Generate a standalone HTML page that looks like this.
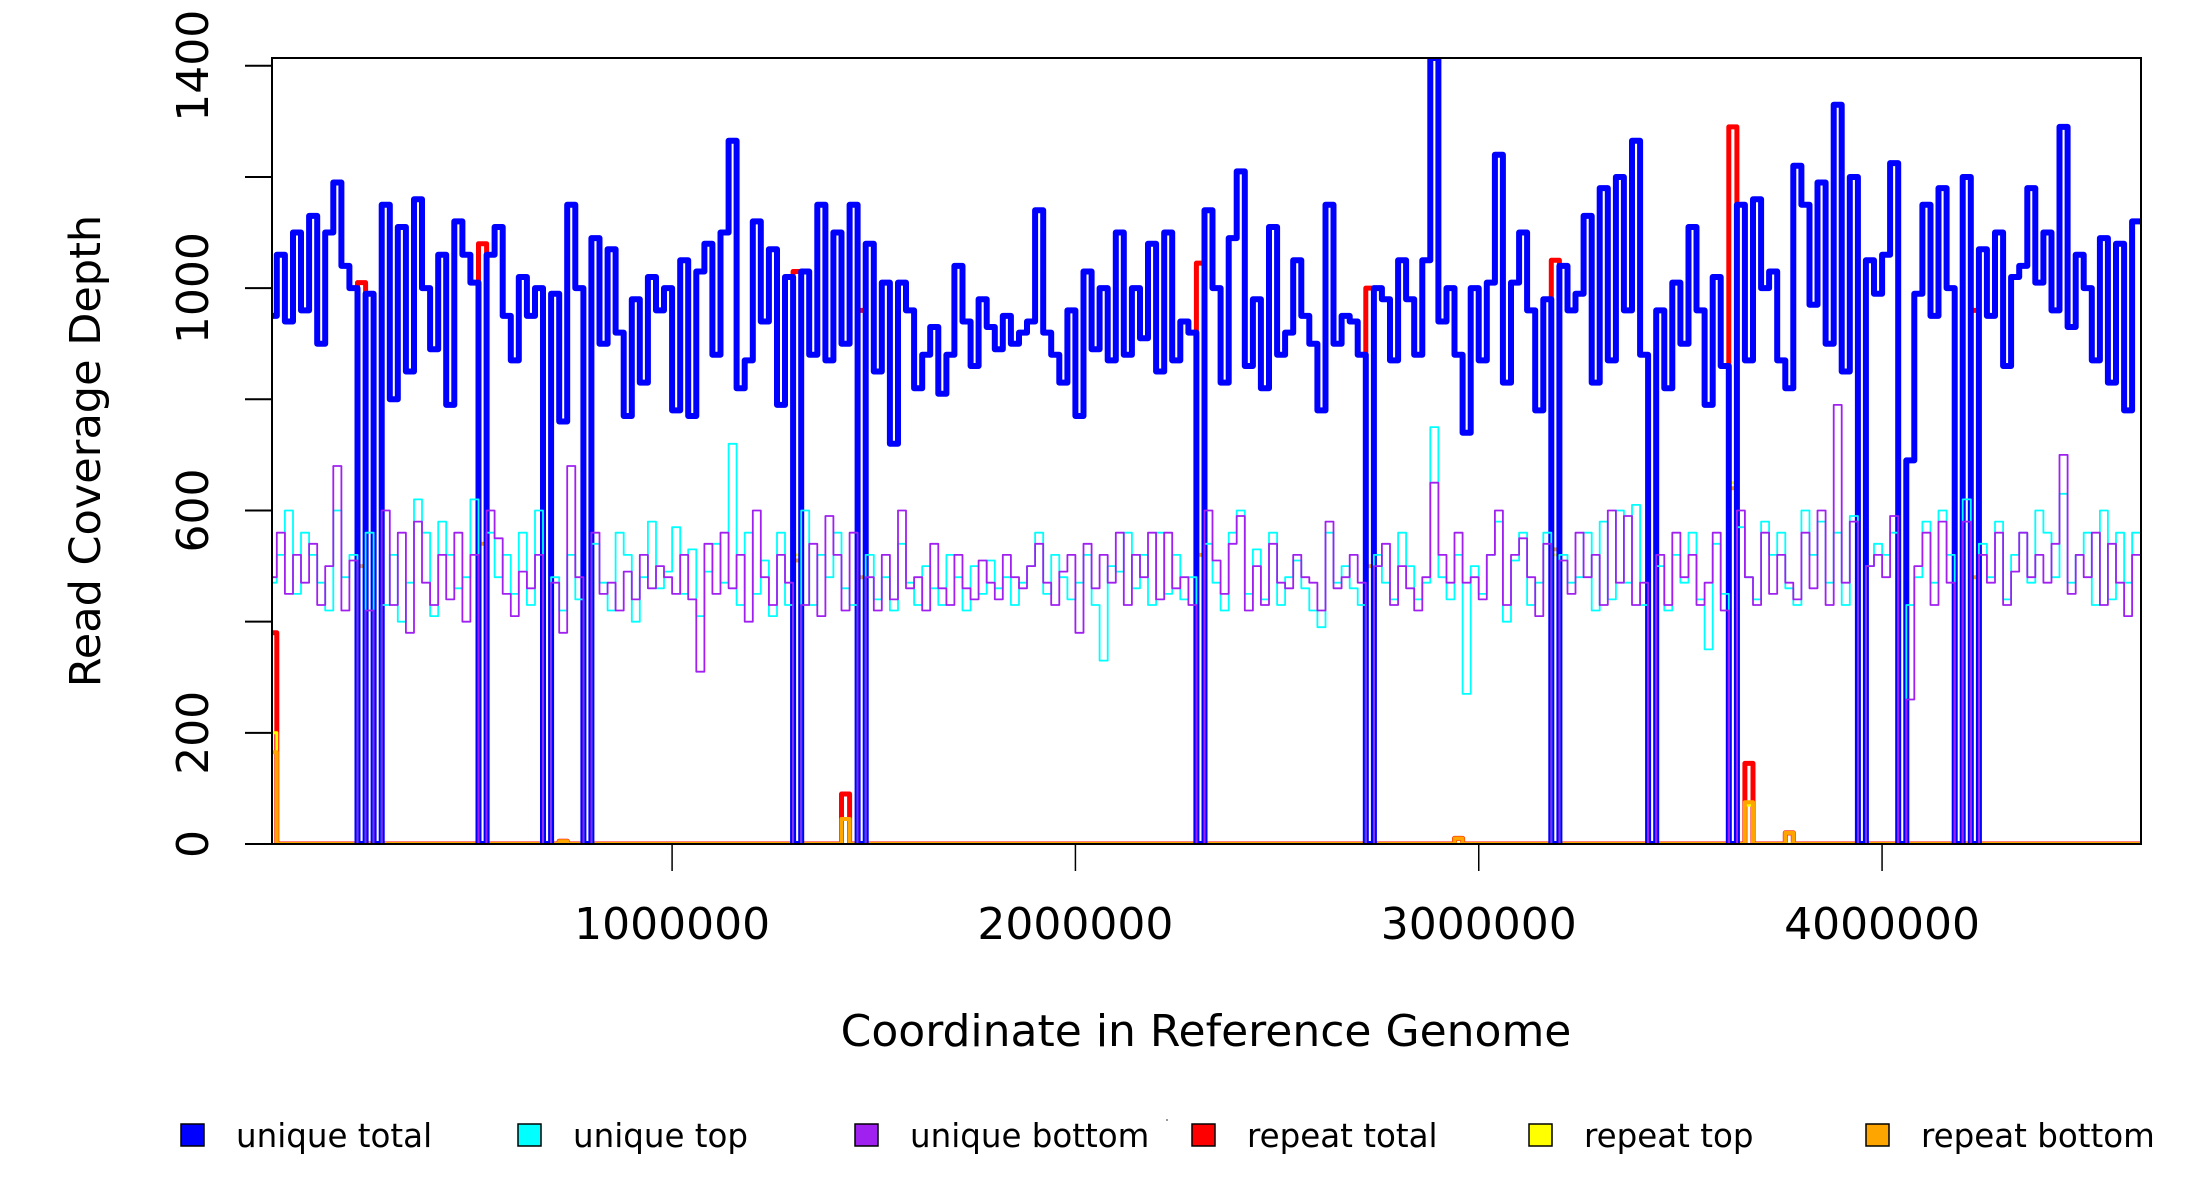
<!DOCTYPE html>
<html><head><meta charset="utf-8"><style>
html,body{margin:0;padding:0;background:#fff;}
svg{display:block;font-family:"DejaVu Sans","Liberation Sans",sans-serif;}
</style></head><body>
<svg id="chart" width="2200" height="1200" viewBox="0 0 2200 1200" xmlns="http://www.w3.org/2000/svg">
<defs><clipPath id="clip"><rect x="272" y="58" width="1869" height="786"/></clipPath></defs>
<rect width="2200" height="1200" fill="#fff"/>
<g id="series" clip-path="url(#clip)"></g>
<rect x="272" y="58" width="1869" height="786" fill="none" stroke="#000" stroke-width="2"/>
<g id="axes"></g>
<text transform="translate(100,451) rotate(-90)" text-anchor="middle" font-size="43">Read Coverage Depth</text>
<text x="1206" y="1046" text-anchor="middle" font-size="44">Coordinate in Reference Genome</text>
<g id="legend"></g>
<rect x="1166" y="1119" width="2" height="2" fill="#999"/>
</svg>
<script>
const binSize = 20000;
const xMin = 8000, xMax = 4642000, yMin = 0, yMax = 1414;
const xTicks = [1000000, 2000000, 3000000, 4000000];
const xTickLabels = ["1000000", "2000000", "3000000", "4000000"];
const yTicks = [0, 200, 400, 600, 800, 1000, 1200, 1400];
const yTickLabels = ["0", "200", "", "600", "", "1000", "", "1400"];
const uniqueTotal = [
950,1060,940,1100,960,1130,900,1100,1190,1040,
1000,0,990,0,1150,800,1110,850,1160,1000,
890,1060,790,1120,1060,1010,0,1060,1110,950,
870,1020,950,1000,0,990,760,1150,1000,0,
1090,900,1070,920,770,980,830,1020,960,1000,
780,1050,770,1030,1080,880,1100,1265,820,870,
1120,940,1070,790,1020,0,1030,880,1150,870,
1100,900,1150,0,1080,850,1010,720,1010,960,
820,880,930,810,880,1040,940,860,980,930,
890,950,900,920,940,1140,920,880,830,960,
770,1030,890,1000,870,1100,880,1000,910,1080,
850,1100,870,940,920,0,1140,1000,830,1090,
1210,860,980,820,1110,880,920,1050,950,900,
780,1150,900,950,940,880,0,1000,980,870,
1050,980,880,1050,1414,940,1000,880,740,1000,
870,1010,1240,830,1010,1100,960,780,980,0,
1040,960,990,1130,830,1180,870,1200,960,1265,
880,0,960,820,1010,900,1110,960,790,1020,
860,0,1150,870,1160,1000,1030,870,820,1220,
1150,970,1190,900,1330,850,1200,0,1050,990,
1060,1225,0,690,990,1150,950,1180,1000,0,
1200,0,1070,950,1100,860,1020,1040,1180,1010,
1100,960,1290,930,1060,1000,870,1090,830,1080,
780,1120];
const uniqueTop = [
470,520,600,450,560,520,470,420,600,480,
520,0,560,0,430,520,400,470,620,560,
410,580,520,460,480,620,0,560,480,520,
450,560,430,600,0,480,420,520,440,0,
540,470,420,560,520,400,480,580,460,490,
570,450,530,410,490,540,470,720,430,560,
450,510,410,560,430,0,600,430,520,480,
560,460,430,0,520,440,480,420,540,470,
430,500,460,430,520,480,420,500,450,510,
460,480,430,470,500,560,450,520,480,440,
470,520,430,330,500,490,560,460,520,430,
560,450,520,440,480,0,540,470,420,560,
600,450,530,440,560,430,480,510,460,420,
390,560,470,500,460,430,0,520,470,440,
560,500,440,470,750,480,440,520,270,500,
450,520,580,400,510,560,430,470,560,0,
520,470,480,560,420,580,440,600,470,610,
430,0,500,420,520,470,560,440,350,540,
450,0,570,480,440,580,520,560,460,430,
600,520,580,470,560,430,590,0,500,540,
520,560,0,430,480,580,470,600,520,0,
620,0,540,480,580,440,520,560,470,600,
560,480,630,470,520,560,430,600,440,560,
470,560];
const uniqueBottom = [
480,560,450,520,470,540,430,500,680,420,
510,0,420,0,600,430,560,380,580,470,
430,520,440,560,400,520,0,600,550,450,
410,490,460,520,0,470,380,680,480,0,
560,450,470,420,490,440,520,460,500,480,
450,520,440,310,540,450,560,460,520,400,
600,480,430,520,470,0,430,540,410,590,
520,420,560,0,480,420,520,440,600,460,
480,420,540,460,430,520,460,440,510,470,
440,520,480,460,500,540,470,430,490,520,
380,540,460,520,470,560,430,520,480,560,
440,560,460,480,430,0,600,510,450,540,
590,420,500,430,540,470,460,520,480,470,
420,580,460,480,520,470,0,500,540,430,
500,460,420,480,650,520,470,560,470,480,
440,520,600,430,520,550,480,410,540,0,
510,450,560,480,520,430,600,470,590,430,
470,0,520,430,560,480,520,430,470,560,
420,0,600,480,430,560,450,520,470,440,
560,460,600,430,790,470,580,0,500,520,
480,590,0,260,500,560,430,580,470,0,
580,0,520,470,560,430,490,560,480,520,
470,540,700,450,520,480,560,430,540,470,
410,520];
const repeatBins   = [0, 11, 26, 36, 65, 71, 73, 115, 136, 147, 159, 181, 183, 188, 211];
const repeatTotal  = [380, 1010, 1080, 5, 1030, 90, 960, 1045, 1000, 10, 1050, 1290, 145, 20, 960];
const repeatTop    = [200, 500, 540, 0, 520, 45, 480, 520, 500, 0, 520, 650, 70, 0, 480];
const repeatBottom = [165, 500, 540, 5, 510, 45, 480, 520, 500, 10, 530, 640, 75, 20, 480];

const PL = 272, PR = 2141, PT = 58, PB = 844;
function xs(v){ return PL + (v - xMin) / (xMax - xMin) * (PR - PL); }
function ys(v){ return PB - (v - yMin) / (yMax - yMin) * (PB - PT); }
const NS = "http://www.w3.org/2000/svg";
function mk(tag, attrs, parent){ const e = document.createElementNS(NS, tag); for (const k in attrs) e.setAttribute(k, attrs[k]); parent.appendChild(e); return e; }

function dense(bins, vals){ const a = new Array(uniqueTotal.length).fill(0); bins.forEach((b, i) => { a[b] = vals[i]; }); return a; }
function stepPath(vals){
  let d = "M" + xs(0).toFixed(1) + "," + ys(vals[0]).toFixed(1);
  for (let i = 0; i < vals.length; i++){
    d += "H" + xs((i + 1) * binSize).toFixed(1);
    if (i + 1 < vals.length) d += "V" + ys(vals[i + 1]).toFixed(1);
  }
  return d;
}
const g = document.getElementById("series");
const layers = [
  ["repeat-total-line", dense(repeatBins, repeatTotal), "#FF0000", 5],
  ["repeat-top-line", dense(repeatBins, repeatTop), "#FFFF00", 3],
  ["repeat-bottom-line", dense(repeatBins, repeatBottom), "#FFA500", 4],
  ["unique-total-line", uniqueTotal, "#0000FF", 6],
  ["unique-top-line", uniqueTop, "#00FFFF", 1.8],
  ["unique-bottom-line", uniqueBottom, "#A020F0", 1.8]
];
layers.forEach(L => {
  const p = mk("path", {d: stepPath(L[1]), fill: "none", stroke: L[2], "stroke-width": L[3], "stroke-linejoin": "round", "stroke-linecap": "round"}, g);
  
  
});

const ax = document.getElementById("axes");
yTicks.forEach((t, i) => {
  const ln = mk("line", {x1: 245, x2: PL, y1: ys(t), y2: ys(t), stroke: "#000", "stroke-width": 2}, ax);
  
  
  if (yTickLabels[i]){
    const tx = mk("text", {transform: "translate(208," + ys(t) + ") rotate(-90)", "text-anchor": "middle", "font-size": 44}, ax);
    tx.textContent = yTickLabels[i];
    
    
  }
});
xTicks.forEach((t, i) => {
  const ln = mk("line", {x1: xs(t), x2: xs(t), y1: PB, y2: 871, stroke: "#000", "stroke-width": 1.5}, ax);
  
  
  const tx = mk("text", {x: xs(t), y: 939, "text-anchor": "middle", "font-size": 44}, ax);
  tx.textContent = xTickLabels[i];
  
  
});

const legendLabels = ["unique total", "unique top", "unique bottom", "repeat total", "repeat top", "repeat bottom"];
const legendColors = ["#0000FF", "#00FFFF", "#A020F0", "#FF0000", "#FFFF00", "#FFA500"];
const lg = document.getElementById("legend");
legendLabels.forEach((lab, i) => {
  const x = 181 + i * 337;
  const r = mk("rect", {x: x, y: 1124, width: 23, height: 22, fill: legendColors[i], stroke: "#000", "stroke-width": 1.5}, lg);
  
  
  const t = mk("text", {x: x + 55, y: 1147, "font-size": 32.5}, lg);
  t.textContent = lab;
  
  
});
</script>
</body></html>
